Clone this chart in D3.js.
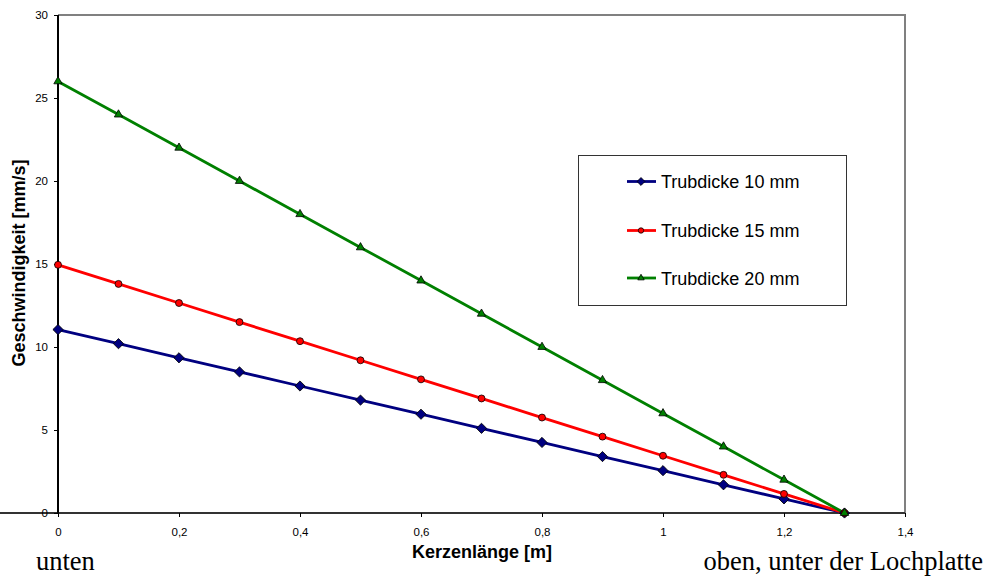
<!DOCTYPE html>
<html><head><meta charset="utf-8">
<script src="https://cdn.jsdelivr.net/npm/d3@7"></script>
<style>body{margin:0;background:#fff}svg{display:block}</style>
</head><body>
<svg id="c" width="986" height="576"></svg>
<script>
const xValues = [0,0.1,0.2,0.3,0.4,0.5,0.6,0.7,0.8,0.9,1.0,1.1,1.2,1.3];
const seriesNames = ["Trubdicke 10 mm","Trubdicke 15 mm","Trubdicke 20 mm"];
const v10 = [11.05,10.2,9.35,8.5,7.65,6.8,5.95,5.1,4.25,3.4,2.55,1.7,0.85,0];
const v15 = [14.95,13.8,12.65,11.5,10.35,9.2,8.05,6.9,5.75,4.6,3.45,2.3,1.15,0];
const v20 = [26,24,22,20,18,16,14,12,10,8,6,4,2,0];
const xTicks = [0,0.2,0.4,0.6,0.8,1,1.2,1.4];
const yTicks = [0,5,10,15,20,25,30];

const svg = d3.select("#c");
const L=58,R=905,T=15,B=513;
const x = d3.scaleLinear().domain([0,1.4]).range([L,R]);
const y = d3.scaleLinear().domain([0,30]).range([B,T]);
const font = "Arial, 'Liberation Sans', sans-serif";

// frame top/right
svg.append("path").attr("d",`M${L},${T}H${R}V${B}`).attr("fill","none").attr("stroke","#808080").attr("stroke-width",2);

const fmt = d => String(d).replace(".",",");
const xa = svg.append("g").attr("transform",`translate(0,${B})`)
  .call(d3.axisBottom(x).tickValues(xTicks).tickFormat(fmt).tickSize(4).tickPadding(11));
const ya = svg.append("g").attr("transform",`translate(${L},0)`)
  .call(d3.axisLeft(y).tickValues(yTicks).tickSize(4).tickPadding(6));
[xa,ya].forEach(a=>{
  a.selectAll("text").attr("font-family",font).attr("font-size",11.5).attr("fill","#000");
  a.selectAll("line").attr("stroke","#000");
  a.select(".domain").attr("stroke","#000").attr("stroke-width",2);
});
ya.select(".domain").attr("d",`M0,${T}V${B}`);
xa.select(".domain").attr("d",`M0,0H${R}`).attr("stroke","#333");

const series = [
  {name:seriesNames[0], vals:v10, color:"#000080", shape:"diamond"},
  {name:seriesNames[1], vals:v15, color:"#FF0000", shape:"circle"},
  {name:seriesNames[2], vals:v20, color:"#008000", shape:"triangle"}
];
const mk = (shape,k)=>{
  if(shape==="diamond") return {d:d3.symbol(d3.symbolSquare,52*k)(), rot:45};
  if(shape==="circle") return {d:d3.symbol(d3.symbolCircle,38*k)(), rot:0};
  return {d:d3.symbol(d3.symbolTriangle,30*k)(), rot:0};
};
const line = d3.line().x((d,i)=>x(xValues[i])).y(d=>y(d));
series.forEach(s=>{
  svg.append("path").datum(s.vals).attr("d",line).attr("fill","none").attr("stroke",s.color).attr("stroke-width",2.8);
});
series.forEach(s=>{
  const m = mk(s.shape,1);
  svg.append("g").selectAll("path").data(s.vals).join("path")
    .attr("transform",(d,i)=>`translate(${x(xValues[i])},${y(d)}) rotate(${m.rot})`)
    .attr("d",m.d).attr("fill",s.color).attr("stroke","#000").attr("stroke-width",0.8);
});

// legend
const lg = svg.append("g");
lg.append("rect").attr("x",578.5).attr("y",155.5).attr("width",268).attr("height",150).attr("fill","#fff").attr("stroke","#333").attr("stroke-width",1);
const ly=[181.5,230.5,278];
series.forEach((s,i)=>{
  lg.append("line").attr("x1",627).attr("x2",656).attr("y1",ly[i]).attr("y2",ly[i]).attr("stroke",s.color).attr("stroke-width",2.8);
  const m = mk(s.shape,0.6);
  lg.append("path").attr("transform",`translate(641,${ly[i]}) rotate(${m.rot})`).attr("d",m.d).attr("fill",s.color).attr("stroke","#000").attr("stroke-width",0.8);
  lg.append("text").attr("x",661).attr("y",ly[i]+6.5).text(s.name).attr("font-family",font).attr("font-size",18).attr("fill","#000");
});

// titles
svg.append("text").attr("x",482).attr("y",558).attr("text-anchor","middle").attr("font-family",font).attr("font-weight","bold").attr("font-size",18).text("Kerzenlänge [m]");
svg.append("text").attr("transform","translate(25,263) rotate(-90)").attr("text-anchor","middle").attr("font-family",font).attr("font-weight","bold").attr("font-size",18).text("Geschwindigkeit [mm/s]");
svg.append("text").attr("x",36).attr("y",570).attr("font-family","'Liberation Serif','DejaVu Serif',serif").attr("font-size",26.5).text("unten");
svg.append("text").attr("x",983).attr("y",570).attr("text-anchor","end").attr("font-family","'Liberation Serif','DejaVu Serif',serif").attr("font-size",26.5).text("oben, unter der Lochplatte");
</script>
</body></html>
